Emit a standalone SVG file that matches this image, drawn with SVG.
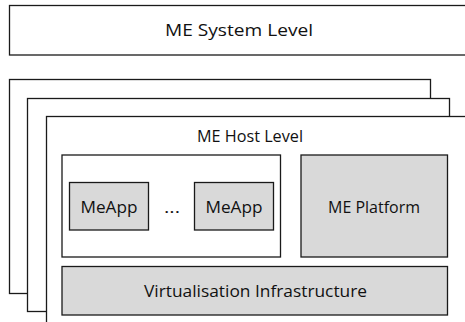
<svg xmlns="http://www.w3.org/2000/svg" width="465" height="322" viewBox="0 0 465 322">
<style>
.box{fill:#ffffff;stroke:#1a1a1a;stroke-width:1.3}
.gray{fill:#d9d9d9;stroke:#1a1a1a;stroke-width:1.3}
.lbl{font-family:"Open Sans","Liberation Sans",sans-serif;font-size:16px;fill:#111111;text-anchor:middle}
</style>
<rect width="465" height="322" fill="#ffffff"/>
<g id="system-level">
<rect class="box" x="9.5" y="5.5" width="470" height="49.5"/>
<text class="lbl" x="239" y="36" textLength="148" lengthAdjust="spacingAndGlyphs">ME System Level</text>
</g>
<g id="host-stack-back">
<rect class="box" x="9.5" y="79.5" width="421" height="214"/>
</g>
<g id="host-stack-middle">
<rect class="box" x="27.5" y="98.5" width="422" height="213"/>
</g>
<g id="host-level">
<rect class="box" x="46.5" y="116.5" width="440" height="230"/>
<text class="lbl" x="250" y="142" textLength="106" lengthAdjust="spacingAndGlyphs">ME Host Level</text>
</g>
<g id="apps-container">
<rect class="box" x="62" y="155" width="218.5" height="102"/>
</g>
<g id="meapp-1">
<rect class="gray" x="69.5" y="182.5" width="79" height="47.5"/>
<text class="lbl" x="109" y="213" textLength="57" lengthAdjust="spacingAndGlyphs">MeApp</text>
</g>
<g id="ellipsis">
<text class="lbl" x="172" y="212.5" textLength="16" lengthAdjust="spacingAndGlyphs">...</text>
</g>
<g id="meapp-2">
<rect class="gray" x="194.5" y="182.5" width="79" height="47.5"/>
<text class="lbl" x="234" y="213" textLength="57" lengthAdjust="spacingAndGlyphs">MeApp</text>
</g>
<g id="me-platform">
<rect class="gray" x="301" y="155" width="146.5" height="102"/>
<text class="lbl" x="374" y="213" textLength="92" lengthAdjust="spacingAndGlyphs">ME Platform</text>
</g>
<g id="virtualisation-infrastructure">
<rect class="gray" x="62" y="266.5" width="385.5" height="48.5"/>
<text class="lbl" x="255.5" y="297" textLength="223" lengthAdjust="spacingAndGlyphs">Virtualisation Infrastructure</text>
</g>
<g id="connectors"></g>
</svg>
